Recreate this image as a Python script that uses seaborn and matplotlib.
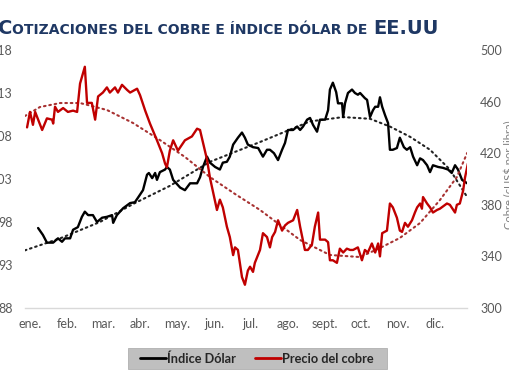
import matplotlib
matplotlib.use('Agg')
import matplotlib.pyplot as plt
import seaborn as sns
from matplotlib.lines import Line2D
from matplotlib.patches import Rectangle
from matplotlib.offsetbox import TextArea, HPacker, AnchoredOffsetbox

# x is in months (0 = start of January)
months = ['ene.', 'feb.', 'mar.', 'abr.', 'may.', 'jun.',
          'jul.', 'ago.', 'sept.', 'oct.', 'nov.', 'dic.']

# Índice Dólar (left axis)
dolar_m = [0.22, 0.35, 0.46, 0.63, 0.76, 0.87, 0.95, 1.09, 1.17, 1.30, 1.41, 1.49,
           1.58, 1.71, 1.82, 1.96, 2.09, 2.23, 2.26, 2.36, 2.53, 2.72, 2.85, 2.93,
           3.07, 3.18, 3.23, 3.32, 3.40, 3.45, 3.53, 3.67, 3.72, 3.80, 3.89, 4.08,
           4.21, 4.35, 4.54, 4.62, 4.70, 4.81, 4.89, 5.03, 5.16, 5.24, 5.35, 5.43,
           5.52, 5.65, 5.76, 5.84, 5.92, 6.06, 6.20, 6.33, 6.44, 6.52, 6.63, 6.74,
           6.85, 6.93, 7.01, 7.15, 7.26, 7.34, 7.42, 7.53, 7.61, 7.69, 7.80, 7.88,
           8.02, 8.10, 8.15, 8.23, 8.32, 8.37, 8.48, 8.51, 8.56, 8.64, 8.75, 8.83,
           8.91, 8.97, 9.10, 9.16, 9.24, 9.32, 9.38, 9.46, 9.51, 9.57, 9.65, 9.73,
           9.78, 9.86, 9.97, 10.05, 10.16, 10.24, 10.33, 10.41, 10.52, 10.60, 10.68,
           10.79, 10.87, 10.95, 11.09, 11.22, 11.36, 11.46, 11.55, 11.63, 11.74, 11.88]
dolar_v = [97.3, 96.5, 95.6, 95.6, 96.1, 95.7, 96.1, 96.1, 97.1, 97.4, 98.6, 99.2,
           98.8, 98.8, 98.0, 98.5, 98.6, 98.8, 97.9, 98.8, 99.6, 100.2, 100.3, 100.8,
           101.7, 103.5, 103.7, 103.1, 103.7, 102.9, 103.8, 104.1, 104.4, 104.1, 102.9, 102.0,
           101.7, 102.5, 102.5, 103.2, 104.4, 105.6, 104.9, 104.4, 104.1, 104.9, 105.0, 105.6,
           107.0, 107.8, 108.4, 107.8, 107.0, 106.7, 106.6, 105.6, 106.4, 106.4, 106.0, 105.2,
           106.4, 107.2, 108.7, 108.7, 109.1, 108.7, 109.1, 109.9, 110.1, 109.3, 108.5, 109.9,
           109.9, 111.0, 113.4, 114.2, 113.1, 111.8, 111.8, 110.2, 111.8, 113.0, 113.4, 113.0,
           112.8, 113.0, 112.4, 112.2, 110.2, 111.0, 111.4, 111.4, 112.5, 111.4, 110.4, 109.5,
           106.4, 106.4, 106.6, 107.8, 106.7, 106.4, 106.7, 105.6, 104.6, 105.4, 105.2,
           104.6, 103.8, 104.6, 104.4, 104.3, 104.1, 103.7, 104.6, 104.1, 102.9, 102.5]

# Precio del cobre (right axis)
cobre_m = [-0.08, 0.00, 0.08, 0.14, 0.33, 0.46, 0.60, 0.63, 0.68, 0.76, 0.90, 1.03,
           1.17, 1.28, 1.36, 1.49, 1.55, 1.68, 1.77, 1.85, 1.98, 2.09, 2.17, 2.31,
           2.39, 2.50, 2.64, 2.72, 2.91, 2.99, 3.13, 3.26, 3.45, 3.59, 3.67, 3.72,
           3.80, 3.89, 4.02, 4.21, 4.40, 4.54, 4.62, 4.81, 4.89, 5.08, 5.16, 5.24,
           5.35, 5.43, 5.52, 5.57, 5.65, 5.76, 5.84, 5.92, 5.98, 6.06, 6.11, 6.25,
           6.33, 6.44, 6.52, 6.58, 6.66, 6.74, 6.85, 6.93, 7.01, 7.15, 7.26, 7.34,
           7.47, 7.55, 7.66, 7.74, 7.83, 7.88, 8.02, 8.10, 8.15, 8.23, 8.34, 8.42,
           8.51, 8.61, 8.70, 8.78, 8.91, 9.02, 9.10, 9.18, 9.29, 9.38, 9.46, 9.51,
           9.57, 9.70, 9.78, 9.86, 9.97, 10.05, 10.11, 10.19, 10.27, 10.38, 10.46, 10.52,
           10.60, 10.65, 10.68, 10.79, 10.87, 10.95, 11.06, 11.14, 11.33, 11.41, 11.55, 11.60,
           11.68, 11.77, 11.82, 11.90]
cobre_v = [440, 452, 442, 452, 438, 447, 446, 443, 456, 452, 455, 452,
           453, 452, 474, 487, 459, 459, 446, 464, 467, 471, 467, 471,
           467, 473, 469, 467, 470, 465, 453, 443, 430, 420, 412, 409,
           422, 430, 422, 430, 433, 439, 438, 415, 401, 376, 384, 378,
           363, 355, 341, 347, 345, 324, 318, 329, 332, 328, 335, 345,
           358, 355, 347, 355, 359, 368, 360, 364, 366, 368, 376, 363,
           345, 345, 349, 363, 374, 353, 353, 351, 337, 337, 335, 346,
           343, 346, 345, 345, 347, 337, 345, 343, 350, 343, 350, 340,
           358, 360, 381, 378, 370, 360, 359, 366, 363, 368, 374, 378,
           381, 377, 386, 381, 378, 374, 376, 377, 381, 380, 374, 380,
           381, 391, 401, 412]

# polynomial trend lines as drawn in the source
dolar_tr_m = [-0.14, 0.82, 1.90, 2.85, 3.80, 4.89, 6.25, 7.61, 8.51, 9.24,
              9.78, 10.33, 10.87, 11.41, 11.88]
dolar_tr_v = [94.7, 96.1, 98.0, 100.2, 102.2, 105.0, 107.3, 109.7, 110.2, 110.0,
              109.1, 107.9, 106.4, 104.1, 100.9]
cobre_tr_m = [-0.14, 0.27, 0.82, 1.36, 2.09, 2.80, 3.53, 4.21, 4.89, 5.57,
              6.25, 7.34, 8.15, 8.97, 9.51, 10.05, 10.60, 11.14, 11.60, 11.88]
cobre_tr_v = [448.8, 455.8, 458.9, 458.9, 453.5, 443.4, 430.2, 417.1, 401.5, 388.4,
              376.0, 352.7, 341.1, 339.5, 346.5, 354.3, 365.9, 383.7, 401.5, 420.2]

left_ticks = [88, 93, 98, 103, 108, 113, 118]
right_ticks = [300, 340, 380, 420, 460, 500]

sns.set_theme(style='white')
plt.rcParams['font.family'] = ['Lato', 'DejaVu Sans']

BLACK = '#000000'
RED = '#C00000'
GREY_TXT = '#595959'

fig = plt.figure(figsize=(5.1, 3.82), dpi=100)
ax = fig.add_axes([25 / 510, 74 / 382, 442 / 510, 258 / 382])
ax2 = ax.twinx()

sns.lineplot(x=dolar_tr_m, y=dolar_tr_v, ax=ax, color='#222222', lw=1.5,
             linestyle=(0, (0.8, 1.8)), dash_capstyle='round', estimator=None, sort=False)
sns.lineplot(x=dolar_m, y=dolar_v, ax=ax, color=BLACK, lw=1.7,
             estimator=None, sort=False)
sns.lineplot(x=cobre_tr_m, y=cobre_tr_v, ax=ax2, color='#A83232', lw=1.5,
             linestyle=(0, (0.8, 1.8)), dash_capstyle='round', estimator=None, sort=False)
sns.lineplot(x=cobre_m, y=cobre_v, ax=ax2, color=RED, lw=1.7,
             estimator=None, sort=False)

ax.set_xlim(-0.136, 11.875)
ax.set_ylim(88, 118)
ax2.set_ylim(300, 500)
ax.set_xticks(range(12))
ax.set_xticklabels(months)
ax.set_yticks(left_ticks)
ax2.set_yticks(right_ticks)
ax.set_xlabel('')
ax.set_ylabel('')
ax2.set_ylabel('')

for a in (ax, ax2):
    for s in a.spines.values():
        s.set_visible(False)
ax.spines['bottom'].set_visible(True)
ax.spines['bottom'].set_color('#D9D9D9')
ax.spines['bottom'].set_linewidth(1.0)

ax.tick_params(axis='y', length=0, pad=9, labelsize=9, labelcolor=GREY_TXT)
ax.tick_params(axis='x', length=0, pad=7, labelsize=9, labelcolor=GREY_TXT)
ax2.tick_params(axis='y', length=0, pad=9.5, labelsize=9, labelcolor=GREY_TXT)

# title with small caps look
tp_big = dict(color='#1F3864', fontweight='bold', family='DejaVu Sans', size=14)
tp_small = dict(color='#1F3864', fontweight='bold', family='DejaVu Sans', size=10)
part1 = HPacker(children=[TextArea('C', textprops=tp_big),
                          TextArea('OTIZACIONES DEL COBRE E ÍNDICE DÓLAR DE', textprops=tp_small)],
                align='baseline', pad=0, sep=0)
title_box = HPacker(children=[part1, TextArea('EE.UU', textprops=tp_big)],
                    align='baseline', pad=0, sep=4)
fig.add_artist(AnchoredOffsetbox(loc='lower left', child=title_box, pad=0, borderpad=0,
                                 frameon=False, bbox_to_anchor=(-2 / 510, 343.5 / 382),
                                 bbox_transform=fig.transFigure))

# right axis title, cut by the edge as in the source
fig.text(509 / 510, 207 / 382, 'Cobre (cUS$ por libra)', rotation=90,
         ha='center', va='center', size=8, color='#7F7F7F')

# legend on a grey band
fig.add_artist(Rectangle((128 / 510, 13 / 382), 259 / 510, 21 / 382,
                         transform=fig.transFigure, facecolor='#BFBFBF',
                         edgecolor='#B0B0B0', lw=0.6))
handles = [Line2D([], [], color=BLACK, lw=2), Line2D([], [], color=RED, lw=2)]
leg = fig.legend(handles, ['Índice Dólar', 'Precio del cobre'], loc='center',
                 bbox_to_anchor=(257 / 510, 23.5 / 382), ncol=2, frameon=False,
                 handlelength=2.0, handletextpad=0.1, columnspacing=1.5, borderpad=0.2,
                 prop={'weight': 'bold', 'size': 9.2})
for t in leg.get_texts():
    t.set_color('#262626')

fig.savefig('out.png', dpi=100)
